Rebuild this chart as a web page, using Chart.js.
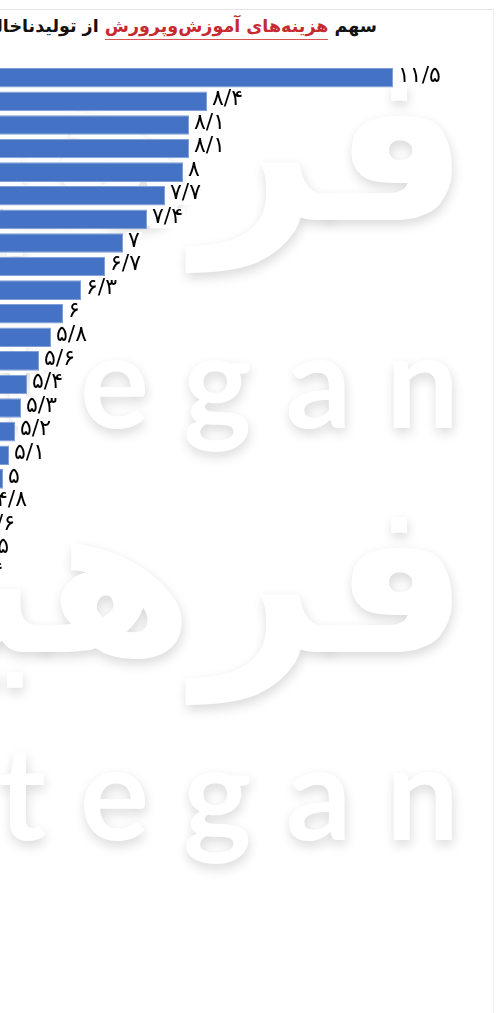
<!DOCTYPE html>
<html lang="fa">
<head>
<meta charset="utf-8">
<script src="https://cdn.jsdelivr.net/npm/chart.js@4.4.0/dist/chart.umd.min.js"></script>
<style>
  html, body { margin: 0; padding: 0; background: #fff; }
  body { width: 503px; height: 1013px; position: relative; overflow: hidden; }
  .frame-top   { position: absolute; left: 0; top: 9px; width: 493px; height: 1px; background: #e3e3e3; }
  .frame-right { position: absolute; left: 493px; top: 9px; width: 1px; height: 1004px; background: #f1f1f1; }
  .title {
    position: absolute; right: 126px; top: 16px; white-space: nowrap;
    direction: rtl; font: bold 17.5px 'DejaVu Sans', sans-serif; color: #111;
  }
  .title .hl { color: #c62a2f; border-bottom: 1px solid #d9534f; padding-bottom: 3px; }
  .wm {
    position: absolute; white-space: nowrap; color: #fff; z-index: 0;
    text-shadow: 1px 5px 12px rgba(0, 0, 0, 0.15);
  }
  .wm-fa { direction: rtl; font: bold 215px 'DejaVu Sans', sans-serif; right: 34px; }
  .wm-en { font: bold 130px Lato, sans-serif; letter-spacing: 34px; right: 10px; }
  #wrap { position: absolute; left: -297px; top: 66px; width: 780px; height: 519px; z-index: 1; }
</style>
</head>
<body>
<div class="frame-top"></div>
<div class="frame-right"></div>

<div class="wm wm-fa" style="top:20px">فرهیختگان</div>
<div class="wm wm-en" style="top:300px">Farhikhtegan</div>
<div class="wm wm-fa" style="top:452px">فرهیختگان</div>
<div class="wm wm-en" style="top:712px">Farhikhtegan</div>

<div class="title">سهم <span class="hl">هزینه‌های آموزش‌وپرورش</span> از تولیدناخالص داخلی</div>

<div id="wrap"><canvas id="chart"></canvas></div>

<script>
// ─── Data ──────────────────────────────────────────────
const ranks  = ['۱', '۲', '۳', '۴', '۵', '۶', '۷', '۸', '۹', '۱۰', '۱۱',
                '۱۲', '۱۳', '۱۴', '۱۵', '۱۶', '۱۷', '۱۸', '۱۹', '۲۰', '۲۱', '۲۲'];
const shares = [11.5, 8.4, 8.1, 8.1, 8, 7.7, 7.4, 7, 6.7, 6.3, 6,
                5.8, 5.6, 5.4, 5.3, 5.2, 5.1, 5, 4.8, 4.6, 4.5, 4.4];

const FA_DIGITS = '۰۱۲۳۴۵۶۷۸۹';
const toFa = v => String(v).replace('.', '/').replace(/\d/g, d => FA_DIGITS[d]);

// value labels at bar ends
const valueLabels = {
  id: 'valueLabels',
  afterDatasetsDraw(chart) {
    const ctx = chart.ctx;
    const meta = chart.getDatasetMeta(0);
    ctx.save();
    ctx.font = '22px "DejaVu Sans", sans-serif';
    ctx.textBaseline = 'middle';
    ctx.textAlign = 'left';
    meta.data.forEach((bar, i) => {
      const txt = toFa(shares[i]);
      const w = ctx.measureText(txt).width;
      ctx.fillStyle = '#fff';
      ctx.fillRect(bar.x + 3, bar.y - 11, w + 4, 20);
      ctx.fillStyle = '#000';
      ctx.fillText(txt, bar.x + 5, bar.y - 2);
    });
    ctx.restore();
  }
};

new Chart(document.getElementById('chart'), {
  type: 'bar',
  data: {
    labels: ranks,
    datasets: [{
      data: shares,
      backgroundColor: '#4472C4',
      borderColor: '#7f9fd6',
      borderWidth: 1,
      borderSkipped: false,
      barPercentage: 0.83,
      categoryPercentage: 1,
    }],
  },
  options: {
    indexAxis: 'y',
    responsive: true,
    maintainAspectRatio: false,
    animation: false,
    layout: { padding: 0 },
    plugins: { legend: { display: false }, tooltip: { enabled: false } },
    scales: {
      x: { display: false, min: 0, max: 13 },
      y: { display: false },
    },
  },
  plugins: [valueLabels],
});
</script>
</body>
</html>
